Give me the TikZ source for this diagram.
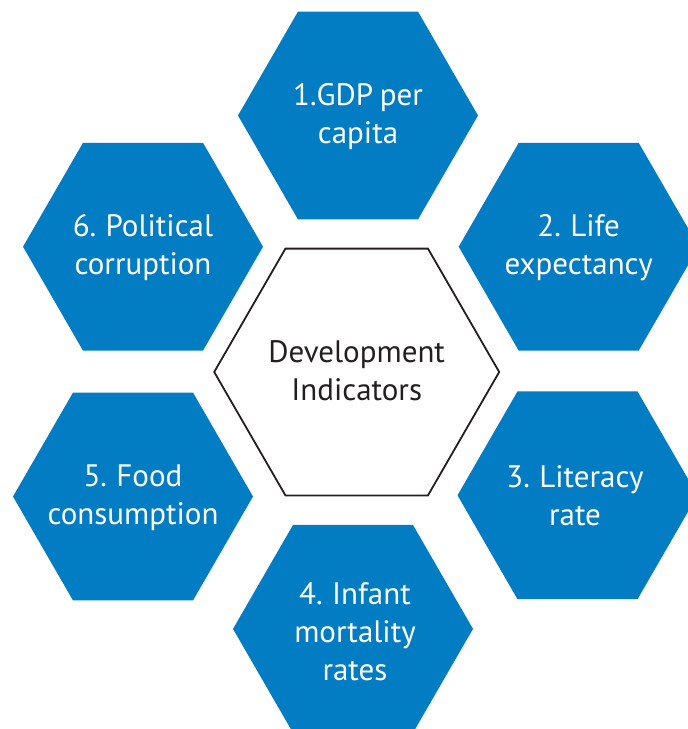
\documentclass[tikz,border=0pt]{standalone}
\usepackage{fontspec}
\setmainfont[WordSpace=0.8]{PT Sans}
\definecolor{hexblue}{RGB}{2,124,194}
\definecolor{inkdark}{RGB}{35,31,32}
\newcommand\hexpath[3]{({#1+#3},#2) -- ({#1+#3/2},{#2+0.866*#3}) -- ({#1-#3/2},{#2+0.866*#3}) -- ({#1-#3},#2) -- ({#1-#3/2},{#2-0.866*#3}) -- ({#1+#3/2},{#2-0.866*#3}) -- cycle}
\tikzset{
  hextext/.style={align=center, inner sep=0pt, font=\fontsize{31}{38}\selectfont},
  bluetext/.style={hextext, text=white},
  darktext/.style={hextext, text=inkdark},
  bluehex/.style={fill=hexblue, draw=none},
  centerhex/.style={fill=white, draw=inkdark, line width=1.8pt, line join=miter}
}
\begin{document}
\begin{tikzpicture}[x=1pt,y=-1pt]
\useasboundingbox (0,0) rectangle (688,729);
\begin{scope}
\clip (0,0) rectangle (688,729);
\path[bluehex] \hexpath{358}{115.5}{120};
\path[bluehex] \hexpath{578.7}{246.7}{120};
\path[bluehex] \hexpath{577.5}{495.3}{120};
\path[bluehex] \hexpath{353}{628.9}{120};
\path[bluehex] \hexpath{133}{496.5}{120};
\path[bluehex] \hexpath{143}{246.7}{120};
\path[centerhex] \hexpath{356.7}{372}{142.5};
\end{scope}
\node[darktext] (c) at (356.7,371) {Development\\Indicators};
\node[bluetext] (h1) at (358,117) {1.GDP per\\capita};
\node[bluetext] (h2) at (578.7,248) {2. Life\\expectancy};
\node[bluetext] (h3) at (575,496) {3. Literacy\\rate};
\node[bluetext] (h4) at (355,632) {4. Infant\\mortality\\rates};
\node[bluetext] (h5) at (133,498) {5. Food\\consumption};
\node[bluetext] (h6) at (143,248) {6. Political\\corruption};
\end{tikzpicture}
\end{document}
